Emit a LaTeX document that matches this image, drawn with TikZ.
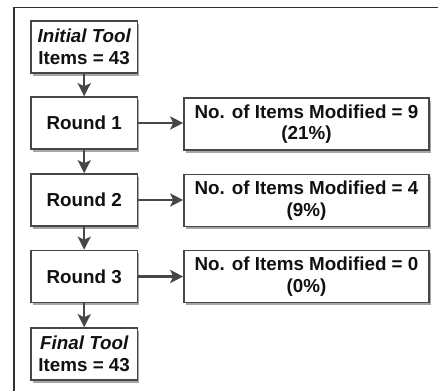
\documentclass[tikz,border=0pt]{standalone}
\usepackage{fontspec}
\setmainfont{Liberation Sans}
\usetikzlibrary{arrows.meta,shadows}
\definecolor{edge}{HTML}{474747}
\definecolor{txt}{HTML}{111111}
\begin{document}
\begin{tikzpicture}[x=1pt,y=-1pt,
  box/.style={draw=edge, line width=1.6pt, fill=white, inner sep=0pt,
    drop shadow={shadow xshift=2pt, shadow yshift=-2.5pt, opacity=0.35, fill=black},
    font=\fontsize{18.8}{21.6}\selectfont\bfseries, text=txt, align=center},
  leftbox/.style={box, minimum width=106.5pt, minimum height=52pt},
  rightbox/.style={box, minimum width=245pt, minimum height=52pt},
  conn/.style={draw=edge, line width=2.4pt, -{Stealth[length=13pt,width=13pt,inset=3pt]}}]
\useasboundingbox (0,0) rectangle (438,391);
\fill[white] (0,0) rectangle (438,391);
\draw[edge!70!black, line width=1.4pt] (14,391) -- (14,7.3) -- (438,7.3);
\node[leftbox] (init) at (84.2,47) {\itshape Initial Tool\\Items = 43};
\node[leftbox] (r1) at (84.2,123) {Round 1};
\node[leftbox] (r2) at (84.2,200) {Round 2};
\node[leftbox] (r3) at (84.2,276.5) {Round 3};
\node[leftbox] (fin) at (84.2,354) {\itshape Final Tool\\Items = 43};
\node[rightbox] (m1) at (306.5,124) {No. of Items Modified = 9\\(21\%)};
\node[rightbox] (m2) at (306.5,200.5) {No. of Items Modified = 4\\(9\%)};
\node[rightbox] (m3) at (306.5,276.5) {No. of Items Modified = 0\\(0\%)};
\draw[conn] (init) -- (r1);
\draw[conn] (r1) -- (r2);
\draw[conn] (r2) -- (r3);
\draw[conn] (r3) -- (fin);
\draw[conn] (r1.east) -- (r1.east -| m1.west);
\draw[conn] (r2.east) -- (r2.east -| m2.west);
\draw[conn] (r3.east) -- (r3.east -| m3.west);
\end{tikzpicture}
\end{document}
